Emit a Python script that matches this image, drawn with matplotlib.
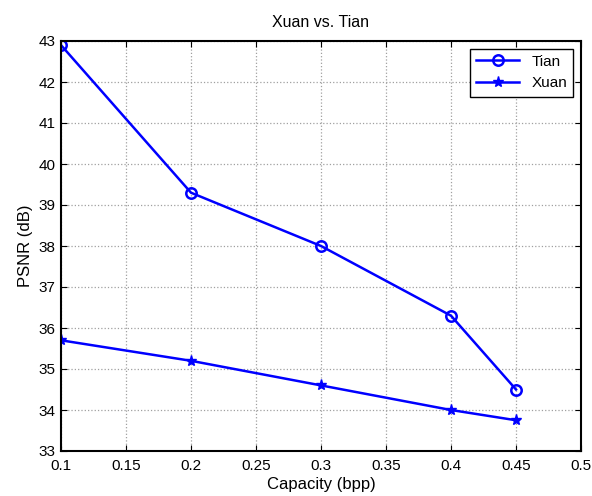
import matplotlib
matplotlib.use("Agg")
import matplotlib.pyplot as plt

plt.rcParams['font.family'] = ['Liberation Sans', 'DejaVu Sans']

capacity = [0.1, 0.2, 0.3, 0.4, 0.45]
tian = [42.9, 39.3, 38.0, 36.3, 34.5]
xuan = [35.7, 35.2, 34.6, 34.0, 33.75]
xticks = [0.1, 0.15, 0.2, 0.25, 0.3, 0.35, 0.4, 0.45, 0.5]
yticks = list(range(33, 44))

fig = plt.figure(figsize=(5.92, 4.96), dpi=100)
ax = fig.add_axes([61/592, 45/496, 520/592, 410/496])

ax.plot(capacity, tian, color='#0000ff', lw=1.8, marker='o', ms=7.5,
        mfc='none', mew=1.8, label='Tian')
ax.plot(capacity, xuan, color='#0000ff', lw=1.8, marker='*', ms=8,
        mew=1.0, label='Xuan')

ax.set_xlim(0.1, 0.5)
ax.set_ylim(33, 43)
ax.set_xticks(xticks)
ax.set_xticklabels([f'{t:g}' for t in xticks])
ax.set_yticks(yticks)
ax.grid(True, color='#a0a0a0', linestyle=':', linewidth=0.9)
ax.tick_params(direction='in', top=True, right=True, labelsize=11, length=4, width=0.8)
ax.tick_params(axis='x', pad=6)
ax.tick_params(axis='y', pad=4)
for s in ax.spines.values():
    s.set_linewidth(1.5)

ax.set_xlabel('Capacity (bpp)', fontsize=12, labelpad=3)
ax.set_ylabel('PSNR (dB)', fontsize=12, labelpad=4)
ax.set_title('Xuan vs. Tian', fontsize=11.5, pad=10)

leg = ax.legend(loc='upper right', fontsize=11, fancybox=False, framealpha=1,
                edgecolor='black', borderaxespad=0.5, handlelength=2.8)
leg.get_frame().set_linewidth(1.0)

fig.savefig('out.png', dpi=100)
